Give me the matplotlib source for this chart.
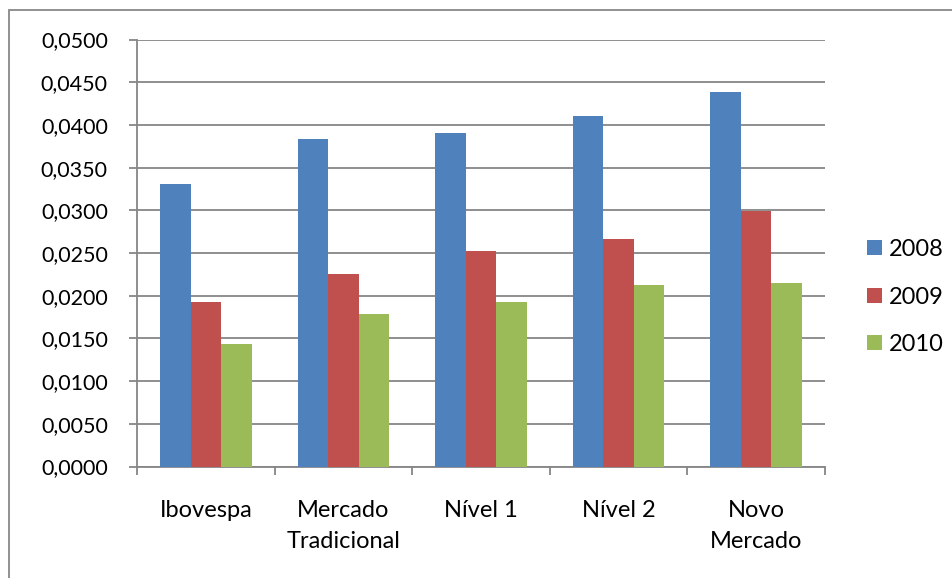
import matplotlib
matplotlib.use("Agg")
import matplotlib.pyplot as plt
from matplotlib.patches import Rectangle
from matplotlib.ticker import FuncFormatter, FixedLocator, NullFormatter
import numpy as np

categories = ["Ibovespa", "Mercado\nTradicional", "Nível 1", "Nível 2", "Novo\nMercado"]
series_names = ["2008", "2009", "2010"]
v2008 = [0.0331, 0.0384, 0.0390, 0.0411, 0.0438]
v2009 = [0.0193, 0.0225, 0.0252, 0.0266, 0.0299]
v2010 = [0.0144, 0.0179, 0.0193, 0.0213, 0.0215]
colors = ["#4F81BD", "#C0504D", "#9BBB59"]

plt.rcParams['font.family'] = ['Lato', 'DejaVu Sans']
W, H = 953, 578
fig = plt.figure(figsize=(W / 100, H / 100), dpi=100)
fig.patch.set_facecolor("white")

# outer chart border
fig.patches.append(Rectangle((9.5 / W, -0.1), 1.2, 1.1 - 9.5 / H,
                             transform=fig.transFigure, fill=False,
                             edgecolor="#888888", linewidth=1.3))

ax = fig.add_axes([137 / W, (H - 466.5) / H, (825 - 137) / W, (466.5 - 39.5) / H])
grid_c = "#868686"

x = np.arange(len(categories))
bw = 1 / 4.5
for i, (vals, name) in enumerate(zip([v2008, v2009, v2010], series_names)):
    ax.bar(x + (i - 1) * bw, vals, width=bw, color=colors[i], label=name, zorder=3,
           edgecolor="none")

ax.set_xlim(-0.5, len(categories) - 0.5)
ax.set_ylim(0, 0.05)
ax.set_yticks(np.arange(0, 0.05001, 0.005))
ax.yaxis.set_major_formatter(FuncFormatter(lambda v, p: f"{v:.4f}".replace(".", ",")))
ax.yaxis.grid(True, color=grid_c, linewidth=1.3, zorder=0)
ax.set_axisbelow(True)

ax.xaxis.set_major_locator(FixedLocator(np.arange(-0.5, len(categories), 1.0)))
ax.xaxis.set_major_formatter(NullFormatter())
ax.xaxis.set_minor_locator(FixedLocator(x))
ax.set_xticklabels(categories, minor=True)
ax.tick_params(axis="x", which="major", length=6, width=1.3, color=grid_c, direction="out")
ax.tick_params(axis="x", which="minor", length=0, pad=24, labelsize=17)
ax.tick_params(axis="y", length=6, width=1.3, color=grid_c, pad=15, labelsize=15.5)
for lbl in ax.get_xticklabels(minor=True):
    lbl.set_linespacing(1.6)

for s in ["top", "right"]:
    ax.spines[s].set_visible(False)
for s in ["left", "bottom"]:
    ax.spines[s].set_color(grid_c)
    ax.spines[s].set_linewidth(1.3)

leg = ax.legend(loc="center left", bbox_to_anchor=(867 / W, 1 - 297 / H),
                bbox_transform=fig.transFigure, frameon=False, fontsize=17,
                handlelength=0.62, handleheight=0.62, handletextpad=0.3,
                labelspacing=1.12, borderpad=0, borderaxespad=0)

fig.savefig("out.png", dpi=100, facecolor="white")
